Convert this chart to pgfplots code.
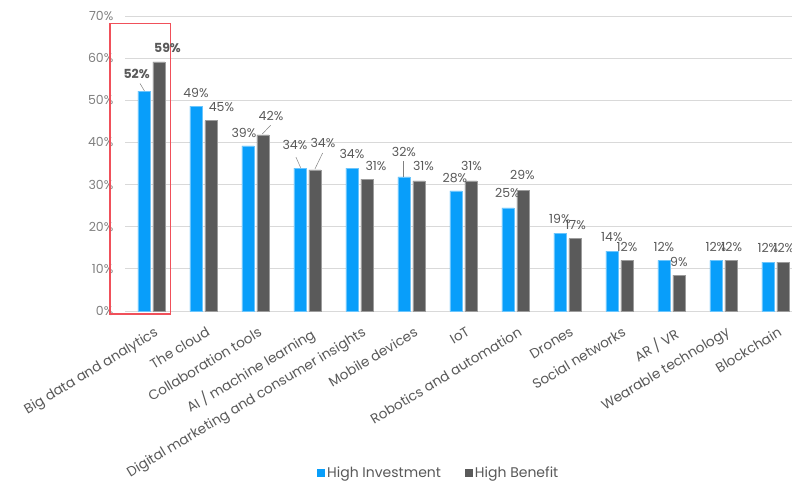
\documentclass[border=0pt]{standalone}
\usepackage{fontspec}
\setmainfont{Poppins}
\usepackage{pgfplots}
\usepackage{pgfplotstable}
\pgfplotsset{compat=1.18}
\definecolor{hiblue}{RGB}{8,158,250}
\definecolor{higray}{RGB}{90,90,90}
\definecolor{gridgray}{RGB}{217,217,217}
\definecolor{labgray}{RGB}{89,89,89}
\definecolor{tickgray}{RGB}{128,128,128}
\definecolor{boxred}{RGB}{240,80,90}

\pgfplotstableread{
x y lab dx dy bold
0 52.2 52 -7.3 17 1
1 48.6 49 0 13 0
2 39.2 39 -4 13 0
3 33.9 34 -5 23 0
4 33.9 34 0 14 0
5 31.8 32 0 25 0
6 28.5 28 -1 13 0
7 24.5 25 -0.5 14.7 0
8 18.5 19 0 14 0
9 14.2 14 0 14 0
10 12.0 12 0 13 0
11 12.0 12 0 13 0
12 11.6 12 0 14 0
}\invest

\pgfplotstableread{
x y lab dx dy bold
0 59.1 59 8.5 14 1
1 45.2 45 10.5 13.7 0
2 41.8 42 8 19 0
3 33.5 34 8 27 0
4 31.3 31 9 13 0
5 30.9 31 4.5 14.7 0
6 30.9 31 0.5 14.7 0
7 28.7 29 -0.5 15 0
8 17.2 17 0.7 13.7 0
9 12.0 12 0 13.3 0
10 8.5 9 0 13 0
11 12.0 12 0.8 13.3 0
12 11.6 12 1 14 0
}\benefit

\begin{document}
\begin{tikzpicture}
\begin{axis}[
  name=ax,
  scale only axis,
  width=666.5bp, height=295bp,
  xmin=-0.5, xmax=12.32, ymin=0, ymax=70,
  clip=false,
  axis line style={draw=none},
  major tick length=0pt,
  ymajorgrids,
  grid style={gridgray, line width=0.8bp},
  ytick={0,10,...,70},
  yticklabel={\pgfmathprintnumber{\tick}\%},
  yticklabel style={anchor=east, inner sep=0pt, xshift=-12bp, text=tickgray, font=\fontsize{12.5bp}{14bp}\selectfont},
  xtick={0,...,12},
  xticklabels={Big data and analytics, The cloud, Collaboration tools, AI / machine learning, Digital marketing and consumer insights, Mobile devices, IoT, Robotics and automation, Drones, Social networks, AR / VR, Wearable technology, Blockchain},
  xticklabel style={rotate=31, anchor=north east, inner sep=0pt, yshift=-14bp, xshift=-6bp, text=labgray, font=\fontsize{13.6bp}{16bp}\selectfont},
  /pgf/number format/assume math mode=true,
  font=\fontsize{12.5bp}{14bp}\selectfont,
  ybar, bar width=12bp,
  legend style={at={(0.470,-0.549)}, anchor=center, draw=none, legend columns=2,
    text=labgray, font=\fontsize{14bp}{16bp}\selectfont,
    /tikz/every even column/.append style={column sep=22bp},
    cells={anchor=west}},
  legend image code/.code={\draw[#1, draw=none] (0bp,-4bp) rectangle (8bp,4bp);},
]
\addplot[fill=hiblue, draw=hiblue!60!white, line width=0.4bp, bar shift=-7.5bp,
  point meta=explicit,
  nodes near coords={\ifdim\isbold pt>0.5pt \bfseries\fi\pgfmathprintnumber{\pgfplotspointmeta}\%},
  visualization depends on={\thisrow{dx} \as \dx},
  visualization depends on={\thisrow{dy} \as \dy},
  visualization depends on={\thisrow{bold} \as \isbold},
  every node near coord/.append style={anchor=center, xshift=\dx bp, yshift=\dy bp, text=labgray, inner sep=0pt}]
  table[x=x, y=y, meta=lab] {\invest};
\addplot[fill=higray, draw=higray!60!white, line width=0.4bp, bar shift=7.5bp,
  point meta=explicit,
  nodes near coords={\ifdim\isbold pt>0.5pt \bfseries\fi\pgfmathprintnumber{\pgfplotspointmeta}\%},
  visualization depends on={\thisrow{dx} \as \dx},
  visualization depends on={\thisrow{dy} \as \dy},
  visualization depends on={\thisrow{bold} \as \isbold},
  every node near coord/.append style={anchor=center, xshift=\dx bp, yshift=\dy bp, text=labgray, inner sep=0pt}]
  table[x=x, y=y, meta=lab] {\benefit};
\legend{High Investment, High Benefit}
% leader lines
\draw[tickgray, line width=0.5bp] (axis cs:-0.135,52.2) -- (axis cs:-0.221,54.0);
\draw[tickgray, line width=0.5bp] (axis cs:2.131,42.0) -- (axis cs:2.292,44.07);
\draw[tickgray, line width=0.5bp] (axis cs:2.869,34.0) -- (axis cs:2.779,36.5);
\draw[tickgray, line width=0.5bp] (axis cs:3.144,33.7) -- (axis cs:3.292,37.5);
\draw[tickgray, line width=0.5bp] (axis cs:4.846,31.9) -- (axis cs:4.846,35.6);
% highlight box
\draw[boxred, line width=1.5bp] (axis cs:-0.798,68.27) rectangle (axis cs:0.369,-0.71);
\end{axis}
\pgfresetboundingbox
\path ([xshift=-125.5bp,yshift=-172bp]ax.south west) rectangle ([yshift=16bp]ax.north east);
\end{tikzpicture}
\end{document}
